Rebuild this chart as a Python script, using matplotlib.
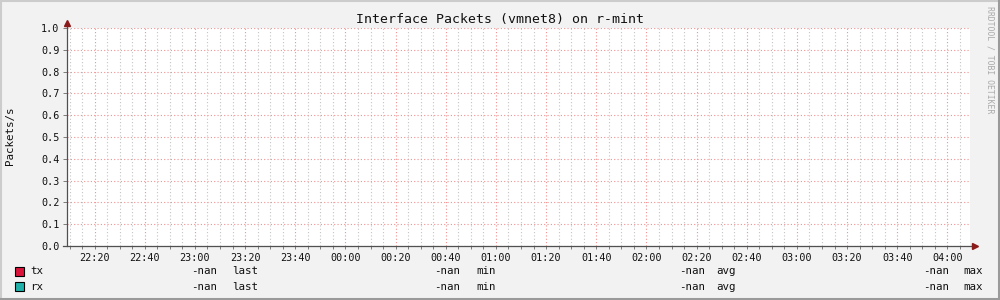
import datetime as dt
import matplotlib
matplotlib.use("Agg")
import matplotlib.pyplot as plt
import matplotlib.dates as mdates
from matplotlib.patches import Rectangle
from matplotlib.lines import Line2D

# chart data
title = "Interface Packets (vmnet8) on r-mint"
y_label = "Packets/s"
t_start = dt.datetime(2020, 1, 1, 22, 9)
t_end = dt.datetime(2020, 1, 2, 4, 9)
y_ticks = [0.0, 0.1, 0.2, 0.3, 0.4, 0.5, 0.6, 0.7, 0.8, 0.9, 1.0]
series_names = ["tx", "rx"]
series_colors = ["#dc143c", "#20b2aa"]
# no samples in the range -> every value is nan
stat_names = ["last", "min", "avg", "max"]
stat_values = {
    "tx": ["-nan", "-nan", "-nan", "-nan"],
    "rx": ["-nan", "-nan", "-nan", "-nan"],
}

MONO = "DejaVu Sans Mono"
W, H = 1000, 300

fig = plt.figure(figsize=(10, 3), dpi=100)
fig.patch.set_facecolor("#f2f2f2")

def px(x, y):
    # pixel position (from top-left) -> figure fraction
    return x / W, 1 - y / H

ax = fig.add_axes([67 / W, 54 / H, 903 / W, 218 / H])
ax.set_facecolor("white")
ax.set_xlim(t_start, t_end)
ax.set_ylim(0, 1)

# empty series (all nan)
for name, col in zip(series_names, series_colors):
    ax.plot([t_start, t_end], [float("nan"), float("nan")], color=col, lw=1)

dots = (0, (1, 2))
ax.xaxis.set_major_locator(mdates.MinuteLocator(byminute=[0, 20, 40]))
ax.xaxis.set_minor_locator(mdates.MinuteLocator(byminute=range(0, 60, 5)))
ax.xaxis.set_major_formatter(mdates.DateFormatter("%H:%M"))
ax.set_yticks(y_ticks)
ax.set_yticklabels([f"{v:.1f}" for v in y_ticks])

ax.grid(which="minor", axis="x", color="#c4c4c4", lw=0.8, linestyle=dots)
ax.grid(which="major", axis="x", color="#f49090", lw=0.8, linestyle=dots)
ax.grid(which="major", axis="y", color="#f49090", lw=0.8, linestyle=dots)
ax.set_axisbelow(True)

for s in ax.spines.values():
    s.set_visible(False)

ax.tick_params(axis="both", which="both", direction="out", color="#808080",
               width=0.72, labelsize=7.3, labelcolor="#111111")
ax.tick_params(axis="x", which="both", length=2, pad=3)
ax.tick_params(axis="y", which="major", length=3, pad=2.5)
for lab in ax.get_xticklabels() + ax.get_yticklabels():
    lab.set_family(MONO)

# axis lines with arrow heads
ax.plot([0, 0], [0, 1.02], transform=ax.transAxes, color="#505050", lw=0.9, clip_on=False)
ax.plot([-0.004, 1.004], [0, 0], transform=ax.transAxes, color="#505050", lw=0.9, clip_on=False)
ax.plot([0], [1.025], transform=ax.transAxes, marker="^", ms=4.5, color="#8b1a1a", clip_on=False)
ax.plot([1.005], [0], transform=ax.transAxes, marker=">", ms=4.5, color="#8b1a1a", clip_on=False)

# title, y label, watermark
fig.text(*px(500, 19), title, family=MONO, fontsize=9.5, ha="center", va="center", color="#111111")
fig.text(*px(10, 136), y_label, family=MONO, fontsize=7.8, rotation=90, ha="center", va="center", color="#111111")
fig.text(*px(990, 60), "RRDTOOL / TOBI OETIKER", family=MONO, fontsize=5.9, rotation=270,
         ha="center", va="center", color="#aaaaaa")

# legend
row_y = [271.5, 286.5]
val_right = [217, 460, 705, 949]
lab_left = [232, 476, 716, 963]
for name, col, ry in zip(series_names, series_colors, row_y):
    x0, y0 = px(15, ry + 4.5)
    fig.patches.append(Rectangle((x0, y0), 9 / W, 9 / H, transform=fig.transFigure,
                                 facecolor=col, edgecolor="black", lw=0.8))
    fig.text(*px(30, ry), name, family=MONO, fontsize=7.8, ha="left", va="center", color="#111111")
    for v, sname, xr, xl in zip(stat_values[name], stat_names, val_right, lab_left):
        fig.text(*px(xr, ry), v, family=MONO, fontsize=7.8, ha="right", va="center", color="#111111")
        fig.text(*px(xl, ry), sname, family=MONO, fontsize=7.8, ha="left", va="center", color="#111111")

# 3d-ish frame around the image
light, dark = "#cccccc", "#9a9a9a"
fig.lines.append(Line2D([0, 1], [1 - 1 / H, 1 - 1 / H], transform=fig.transFigure, color=light, lw=1.5))
fig.lines.append(Line2D([1 / W, 1 / W], [0, 1], transform=fig.transFigure, color=light, lw=1.5))
fig.lines.append(Line2D([0, 1], [1.5 / H, 1.5 / H], transform=fig.transFigure, color=dark, lw=2.2))
fig.lines.append(Line2D([1 - 1.5 / W, 1 - 1.5 / W], [0, 1], transform=fig.transFigure, color=dark, lw=2.2))

fig.savefig("out.png", dpi=100, facecolor=fig.get_facecolor())
